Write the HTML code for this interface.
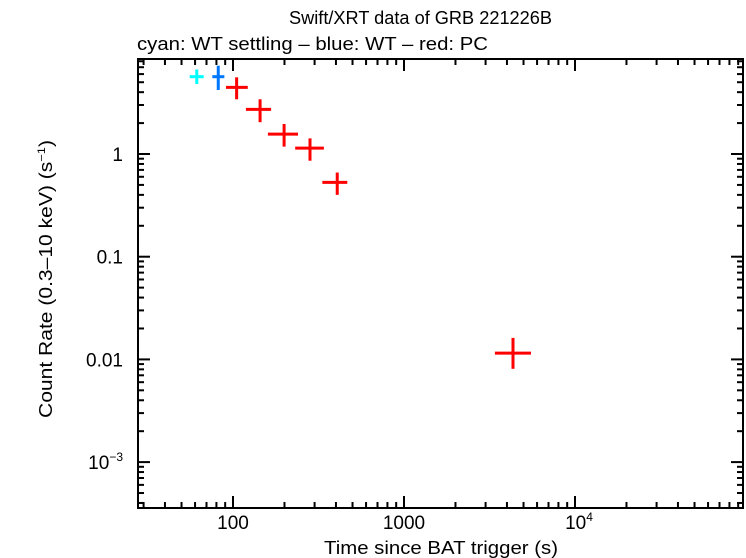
<!DOCTYPE html>
<html><head><meta charset="utf-8"><style>
html,body{margin:0;padding:0;background:#fff;}
svg{display:block;font-family:"Liberation Sans",Arial,sans-serif;}
</style></head><body>
<svg id="chart" width="746" height="558" viewBox="0 0 746 558">
<text x="289" y="24" font-size="18" textLength="263" lengthAdjust="spacingAndGlyphs">Swift/XRT data of GRB 221226B</text>
<text x="137" y="50" font-size="18" textLength="351" lengthAdjust="spacingAndGlyphs">cyan: WT settling – blue: WT – red: PC</text>
<text x="324" y="554" font-size="18" textLength="234" lengthAdjust="spacingAndGlyphs">Time since BAT trigger (s)</text>
<text transform="translate(52,418) rotate(-90)" font-size="18" textLength="278" lengthAdjust="spacingAndGlyphs">Count Rate (0.3–10 keV) (s<tspan font-size="11" dy="-7">−1</tspan><tspan dy="7">)</tspan></text>
<g id="ticks"></g>
<g id="marks"></g>
<rect x="138" y="59" width="605" height="449" fill="none" stroke="#000" stroke-width="2"/>
</svg>
<script>
const xTickVals = [100, 1000, 10000];
const xTickLabels = ["100", "1000", "10^4"];
const yTickVals = [1, 0.1, 0.01, 0.001];
const yTickLabels = ["1", "0.1", "0.01", "10^−3"];
const seriesNames = ["wt-settling", "wt", "pc"];
const seriesColors = ["#00ffff", "#0077ff", "#ff0000"];
const cyanX = [61.4], cyanXlo = [55.8], cyanXhi = [67.4];
const cyanY = [5.66], cyanYlo = [4.8], cyanYhi = [6.65];
const blueX = [82], blueXlo = [75.7], blueXhi = [89];
const blueY = [5.66], blueYlo = [4.2], blueYhi = [7.24];
const redX = [105, 144, 199, 282, 407, 4340];
const redXlo = [91, 119, 160, 231, 333, 3400];
const redXhi = [122, 167, 240, 340, 466, 5530];
const redY = [4.46, 2.72, 1.56, 1.14, 0.53, 0.0115];
const redYlo = [3.41, 2.04, 1.18, 0.86, 0.40, 0.0081];
const redYhi = [5.58, 3.41, 1.96, 1.42, 0.66, 0.0162];

const NS = "http://www.w3.org/2000/svg";
const L = 138, R = 743, T = 59, B = 508;
const xMinLog = 2 - 95/171, xMaxLog = 2 + 510/171;
const yMaxLog = (154 - T)/102.7, yMinLog = -(B - 154)/102.7;
function xs(v){ return L + (Math.log10(v) - xMinLog)/(xMaxLog - xMinLog)*(R - L); }
function ys(v){ return T + (yMaxLog - Math.log10(v))/(yMaxLog - yMinLog)*(B - T); }
function mk(tag, attrs, parent){ const e = document.createElementNS(NS, tag); for (const k in attrs) e.setAttribute(k, attrs[k]); parent.appendChild(e); return e; }
const tg = document.getElementById("ticks");
for (let d = 1; d <= 5; d++) for (let m = 1; m < 10; m++) {
  const v = m * Math.pow(10, d); const x = xs(v);
  if (x < L || x > R) continue;
  const len = m === 1 ? 12 : 6;
  const t1 = mk("line", {x1:x, x2:x, y1:B, y2:B-len, stroke:"#000", "stroke-width":2}, tg);
  
  
  const t2 = mk("line", {x1:x, x2:x, y1:T, y2:T+len, stroke:"#000", "stroke-width":2}, tg);
  
  
}
for (let d = -4; d <= 1; d++) for (let m = 1; m < 10; m++) {
  const v = m * Math.pow(10, d); const y = ys(v);
  if (y < T || y > B) continue;
  const len = m === 1 ? 12 : 6;
  const t1 = mk("line", {x1:L, x2:L+len, y1:y, y2:y, stroke:"#000", "stroke-width":2}, tg);
  
  
  const t2 = mk("line", {x1:R, x2:R-len, y1:y, y2:y, stroke:"#000", "stroke-width":2}, tg);
  
  
}
function label(txt, x, y, anchor, name){
  const t = mk("text", {x:x, y:y, "font-size":19, "text-anchor":anchor}, tg);
  
  
  if (txt.indexOf("^") >= 0) {
    const p = txt.split("^");
    t.textContent = p[0];
    const s = mk("tspan", {"font-size":12, dy:-8}, t); s.textContent = p[1];
  } else t.textContent = txt;
}
xTickVals.forEach((v,i) => label(xTickLabels[i], xs(v) + (i===2?4:0), 529, "middle", "x-tick-label"));
yTickVals.forEach((v,i) => label(yTickLabels[i], 123, ys(v) + 7, "end", "y-tick-label"));
const mg = document.getElementById("marks");
function drawSeries(X, Xlo, Xhi, Y, Ylo, Yhi, color, name){
  for (let i = 0; i < X.length; i++) {
    const g = mk("g", {stroke:color, "stroke-width":3}, mg);
    
    
    mk("line", {x1:xs(Xlo[i]), x2:xs(Xhi[i]), y1:ys(Y[i]), y2:ys(Y[i])}, g);
    mk("line", {x1:xs(X[i]), x2:xs(X[i]), y1:ys(Ylo[i]), y2:ys(Yhi[i])}, g);
  }
}
drawSeries(cyanX, cyanXlo, cyanXhi, cyanY, cyanYlo, cyanYhi, seriesColors[0], seriesNames[0]);
drawSeries(blueX, blueXlo, blueXhi, blueY, blueYlo, blueYhi, seriesColors[1], seriesNames[1]);
drawSeries(redX, redXlo, redXhi, redY, redYlo, redYhi, seriesColors[2], seriesNames[2]);
</script>
</body></html>
